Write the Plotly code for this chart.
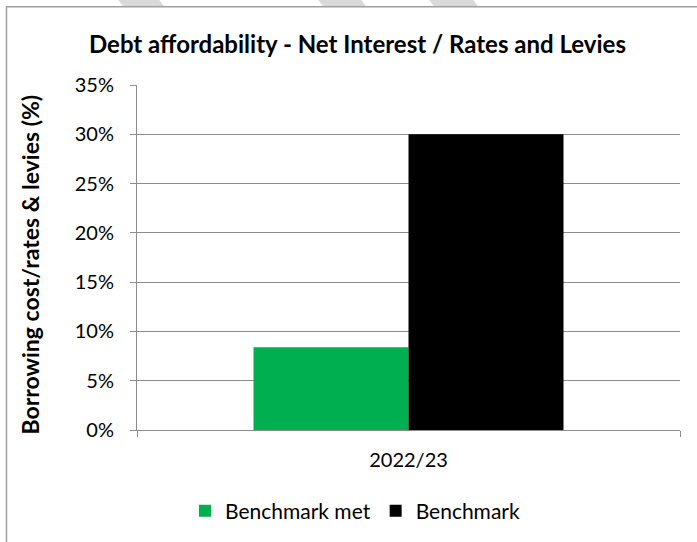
import plotly.graph_objects as go

# Chart data
categories = ["2022/23"]
benchmark_met = [0.084]
benchmark = [0.30]
series_names = ["Benchmark met", "Benchmark"]
series_colors = ["#00B050", "#000000"]
y_ticks = [0, 0.05, 0.10, 0.15, 0.20, 0.25, 0.30, 0.35]

W, H = 697, 542
L, R, T, B = 137, 680, 85, 431   # plot area in pixels


def px(x):
    return (x - L) / (R - L)


def py(y):
    return (B - y) / (B - T)


FONT = "Lato"
GRID = "#8c8c8c"

fig = go.Figure()
for name, vals, col in zip(series_names, [benchmark_met, benchmark], series_colors):
    fig.add_trace(go.Bar(x=categories, y=vals, name=name, marker_color=col,
                         marker_line_width=0))

shapes = []
# faint diagonal watermark strokes peeking above the chart frame
for x0, x1 in [(117, 158), (317, 360), (428, 472)]:
    shapes.append(dict(
        type="path", xref="paper", yref="paper",
        path=f"M {px(x0)} {py(-2)} L {px(x1)} {py(-2)} L {px(x1+6)} {py(6)} L {px(x0+6)} {py(6)} Z",
        fillcolor="#d9d9d9", line_width=0, layer="below"))
# chart frame
shapes.append(dict(type="rect", xref="paper", yref="paper",
                   x0=px(6.5), x1=px(720), y0=py(560), y1=py(6.5),
                   line=dict(color="#a0a0a0", width=1.5), fillcolor="rgba(0,0,0,0)",
                   layer="below"))

fig.update_layout(
    width=W, height=H,
    margin=dict(l=L, r=W - R, t=T, b=H - B),
    paper_bgcolor="white", plot_bgcolor="white",
    barmode="group", bargap=1 - 310 / 543, bargroupgap=0,
    font=dict(family=FONT, size=20, color="#000000"),
    showlegend=True,
    legend=dict(orientation="h", x=px(355), xanchor="center", y=py(511), yanchor="middle",
                font=dict(size=21), itemwidth=30, traceorder="normal"),
    shapes=shapes,
    annotations=[
        dict(text="<b>Debt affordability - Net Interest / Rates and Levies</b>",
             xref="paper", yref="paper", x=px(357), y=py(43),
             xanchor="center", yanchor="middle", showarrow=False,
             font=dict(size=24, family=FONT)),
        dict(text="<b>Borrowing cost/rates & levies (%)</b>",
             xref="paper", yref="paper", x=px(30), y=py(265),
             xanchor="center", yanchor="middle", showarrow=False, textangle=-90,
             font=dict(size=23, family=FONT)),
    ],
)
fig.update_yaxes(range=[0, 0.35], tickvals=y_ticks, tickformat=".0%",
                 showgrid=True, gridcolor=GRID, gridwidth=1,
                 showline=True, linecolor=GRID, linewidth=1,
                 ticks="outside", ticklen=6, tickcolor=GRID,
                 ticklabelstandoff=12,
                 zeroline=False, tickfont=dict(size=20))
fig.update_xaxes(showline=True, linecolor=GRID, linewidth=1,
                 ticks="outside", tickson="boundaries", ticklen=6, tickcolor=GRID,
                 ticklabelstandoff=12,
                 tickfont=dict(size=20), showgrid=False)

fig.write_html("out.html")
